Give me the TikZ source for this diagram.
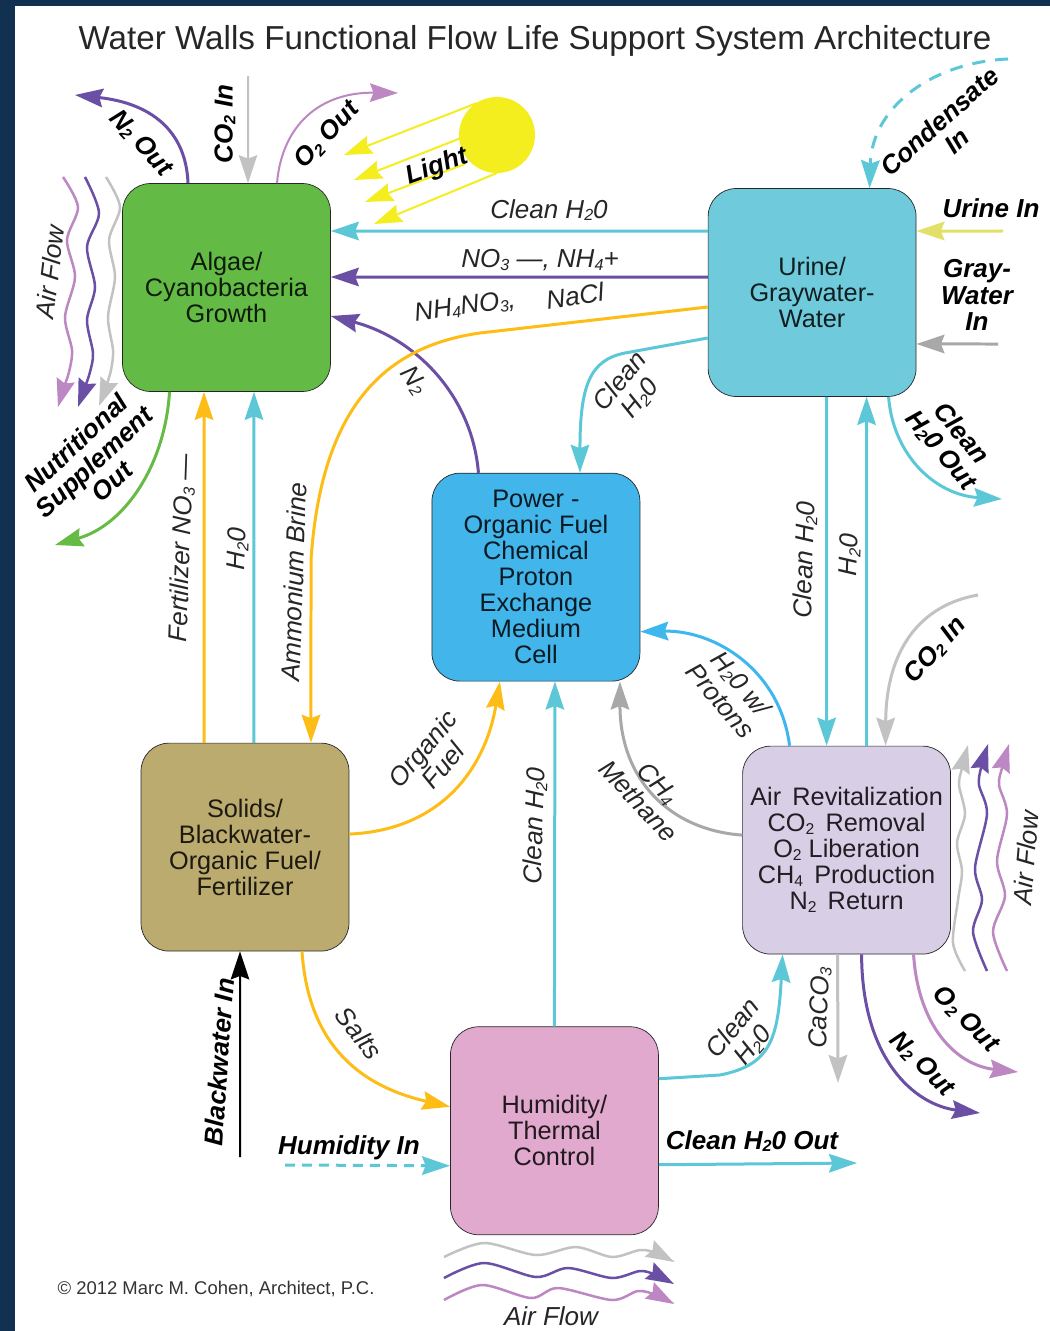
\documentclass[tikz,border=0pt]{standalone}
\usepackage{fontspec}
\setmainfont{Liberation Sans}
\usetikzlibrary{positioning,arrows.meta}
\usepackage{xcolor}

\definecolor{pagenavy}{HTML}{12304F}
\definecolor{algaegreen}{HTML}{63BB46}
\definecolor{urineteal}{HTML}{6FCBDB}
\definecolor{powerblue}{HTML}{42B5EA}
\definecolor{solidstan}{HTML}{BCAB6E}
\definecolor{airlilac}{HTML}{D8CFE6}
\definecolor{humidpink}{HTML}{E0A9CD}
\definecolor{flowcyan}{HTML}{5CC8D7}
\definecolor{flowpurple}{HTML}{6B4FA5}
\definecolor{flowmauve}{HTML}{BC87C2}
\definecolor{flowgrey}{HTML}{C2C2C2}
\definecolor{flowdark}{HTML}{A8A8A8}
\definecolor{floworange}{HTML}{FDBD16}
\definecolor{flowgreen}{HTML}{66BB44}
\definecolor{flowblue}{HTML}{3EB6EE}
\definecolor{sunyellow}{HTML}{F5EE1F}
\definecolor{urineyellow}{HTML}{E3E06A}

\newcommand{\lowdigit}[1]{\raisebox{-0.2ex}{\scalebox{0.62}{#1}}}

\begin{document}
\begin{tikzpicture}[x=0.02cm,y=-0.02cm]
    \tikzstyle{block} = [rectangle, draw=black!85, rounded corners=.56cm,
               minimum size=4.16cm, align=center, text opacity=.85,
               font=\fontsize{14.4}{14.8}\selectfont]
    \tikzstyle{flow} = [line width=.06cm, -{Stealth[length=.56cm,width=.37cm,inset=.07cm]}]
    \tikzstyle{thinflow} = [line width=.04cm, -{Stealth[length=.56cm,width=.37cm,inset=.07cm]}]
    \tikzstyle{airwave} = [line width=.05cm, -{Stealth[length=.56cm,width=.37cm,inset=.07cm]}]
    \tikzstyle{lbl} = [align=center, inner sep=0pt, text opacity=.85,
               font=\fontsize{14.8}{15}\selectfont\itshape]
    \tikzstyle{boldlbl} = [align=center, inner sep=0pt,
               font=\fontsize{14.8}{15}\selectfont\bfseries\itshape]

    % Page
    \fill[pagenavy] (0,0) rectangle (1050,1331);
    \fill[white] (15,6) rectangle (1050,1331);
    \node[inner sep=0pt, text opacity=.85, font=\fontsize{18.9}{20}\selectfont] (title) at (535,41)
      {Water Walls Functional Flow Life Support System Architecture};

    % Boxes
    \node[block, fill=algaegreen] (algae) at (226.5,287.5) {Algae/\\Cyanobacteria\\Growth};
    \node[block, fill=urineteal, right=7.54cm of algae, yshift=-.1cm] (urine) {Urine/\\Graywater-\\Water};
    \node[block, fill=powerblue, below=1.62cm of algae, xshift=6.19cm] (power)
      {Power -\\Organic Fuel\\Chemical\\Proton\\Exchange\\Medium\\Cell};
    \node[block, fill=solidstan, below=7.02cm of algae, xshift=.37cm] (solids)
      {Solids/\\Blackwater-\\Organic Fuel/\\Fertilizer};
    \node[block, fill=airlilac, below=6.98cm of urine, xshift=.69cm] (air)
      {Air\, Revitalization\\CO\lowdigit{2}\, Removal\\O\lowdigit{2} Liberation\\CH\lowdigit{4}\, Production\\N\lowdigit{2}\, Return};
    \node[block, fill=humidpink, below=1.5cm of solids, xshift=6.19cm] (humid)
      {Humidity/\\Thermal\\Control};

    % Free ends
    \coordinate (nout) at (75,95);
    \coordinate (coin) at (248,76);
    \coordinate (oout) at (398,93);
    \coordinate (rayA) at (344,155);
    \coordinate (rayB) at (354,180);
    \coordinate (rayC) at (365,202);
    \coordinate (rayD) at (374,224);
    \coordinate (nutri) at (55,545);
    \coordinate (condense) at (1008,59);
    \coordinate (urinein) at (1003,231);
    \coordinate (grayin) at (998,344);
    \coordinate (cleanout) at (1002,499);
    \coordinate (cotwoin) at (978,595);
    \coordinate (caco) at (838,1083);
    \coordinate (ntwoout) at (980,1113);
    \coordinate (otwoout) at (1018,1072);
    \coordinate (humidout) at (857,1163);
    \coordinate (blackin) at (240,1157);
    \coordinate (humidin) at (285,1165);

    % Sun
    \draw[thinflow, color=sunyellow] (477,103) -- (rayA);
    \draw[thinflow, color=sunyellow] (461,138) -- (rayB);
    \draw[thinflow, color=sunyellow] (465,164) -- (rayC);
    \draw[thinflow, color=sunyellow] (497,173) -- (rayD);
    \node[circle, fill=sunyellow, minimum size=1.52cm, inner sep=0pt] (sun) at (497,135) {};

    % Around the algae box
    \draw[flow, color=flowpurple] ([xshift=-.77cm]algae.north) .. controls (186,130) and (150,103) .. (nout);
    \draw[flow, color=flowgrey, line width=.04cm] (coin) -- ([xshift=.43cm]algae.north);
    \draw[thinflow, color=flowmauve] ([xshift=1.01cm]algae.north) .. controls (282,125) and (320,92) .. (oout);
    \draw[flow, color=flowgreen] ([xshift=-1.14cm]algae.south) .. controls (165,465) and (125,525) .. (nutri);
    \draw[flow, color=flowcyan] ([yshift=1.23cm]urine.west) -- ([yshift=1.13cm]algae.east);
    \draw[flow, color=flowpurple] ([yshift=.31cm]urine.west) -- ([yshift=.21cm]algae.east);
    \draw[flow, color=flowpurple] ([xshift=-1.15cm]power.north) .. controls (472,395) and (415,338) .. ([yshift=-.57cm]algae.east);
    \draw[flow, color=floworange] ([xshift=-.82cm]solids.north) -- ([xshift=-.45cm]algae.south);
    \draw[flow, color=flowcyan] ([xshift=.18cm]solids.north) -- ([xshift=.55cm]algae.south);
    \draw[flow, color=floworange] ([yshift=-.29cm]urine.west) -- (480,333)
      .. controls (395,345) and (322,395) .. (311,560) -- ([xshift=1.32cm]solids.north);

    % Around the urine box
    \draw[flow, color=flowcyan, dash pattern=on .26cm off .2cm] (condense) .. controls (935,62) and (872,105) .. ([xshift=1.15cm]urine.north);
    \draw[flow, color=urineyellow] (urinein) -- ([yshift=1.23cm]urine.east);
    \draw[flow, color=flowdark] (grayin) -- ([yshift=-1.03cm]urine.east);
    \draw[flow, color=flowcyan] ([yshift=-.91cm]urine.west) -- (625,353) .. controls (590,360) and (580,385) .. ([xshift=.88cm]power.north);
    \draw[flow, color=flowcyan] ([xshift=.29cm]urine.south) -- ([xshift=-.4cm]air.north);
    \draw[flow, color=flowcyan] ([xshift=.4cm]air.north) -- ([xshift=1.09cm]urine.south);
    \draw[flow, color=flowcyan] ([xshift=1.53cm]urine.south) .. controls (893,455) and (935,495) .. (cleanout);

    % Around the air box
    \draw[flow, color=flowgrey] (cotwoin) .. controls (920,605) and (886,650) .. ([xshift=.78cm]air.north);
    \draw[flow, color=flowblue] ([xshift=-1.14cm]air.north) .. controls (780,670) and (715,630) .. ([yshift=-1.09cm]power.east);
    \draw[flow, color=flowdark] ([yshift=.3cm]air.west) .. controls (670,830) and (620,780) .. ([xshift=1.68cm]power.south);
    \draw[flow, color=flowgrey] ([xshift=-.18cm]air.south) -- (caco);
    \draw[flow, color=flowpurple] ([xshift=.3cm]air.south) .. controls (862,1060) and (915,1105) .. (ntwoout);
    \draw[flow, color=flowmauve] ([xshift=1.34cm]air.south) .. controls (918,1025) and (955,1065) .. (otwoout);

    % Around the humidity box
    \draw[flow, color=flowcyan] (humid.north) -- ([xshift=.38cm]power.south);
    \draw[flow, color=flowcyan] ([yshift=1.04cm]humid.east) -- (720,1075) .. controls (770,1065) and (778,1040) .. ([xshift=-1.28cm]air.south);
    \draw[flow, color=flowcyan] ([yshift=-.68cm]humid.east) -- (humidout);
    \draw[flow, color=flowcyan, dash pattern=on .2cm off .14cm] (humidin) -- ([yshift=-.7cm]humid.west);
    \draw[flow, color=floworange] ([xshift=1.14cm]solids.south) .. controls (308,1040) and (355,1085) .. ([yshift=.48cm]humid.west);
    \draw[flow, color=floworange] ([yshift=.26cm]solids.east) .. controls (440,830) and (485,770) .. ([xshift=-.72cm]power.south);
    \draw[thinflow, color=black] (blackin) -- ([xshift=-.1cm]solids.south);

    % Air flow
    \draw[airwave, color=flowmauve] plot[smooth] coordinates {(63,177) (78,207) (67,240) (75,277) (65,317) (72,350) (69,372) (63,390) (58,407)};
    \draw[airwave, color=flowpurple] plot[smooth] coordinates {(85,177) (99,213) (87,247) (95,287) (87,320) (93,353) (90,372) (84,390) (78,407)};
    \draw[airwave, color=flowgrey] plot[smooth] coordinates {(106,177) (120,207) (109,240) (115,277) (108,317) (113,350) (111,370) (105,390) (99,406)};
    \draw[airwave, color=flowgrey] plot[smooth] coordinates {(965,971) (953,943) (958,900) (962,871) (957,843) (965,814) (959,785) (962,768) (968,745)};
    \draw[airwave, color=flowpurple] plot[smooth] coordinates {(987,971) (973,932) (982,900) (975,868) (987,814) (979,785) (981,768) (988,744)};
    \draw[airwave, color=flowmauve] plot[smooth] coordinates {(1007,971) (993,932) (1005,896) (997,861) (1007,814) (999,785) (1002,768) (1009,744)};
    \draw[airwave, color=flowgrey] plot[smooth] coordinates {(444,1257) (484,1243) (536,1255) (576,1247) (612,1257) (640,1250) (656,1253) (674,1262)};
    \draw[airwave, color=flowpurple] plot[smooth] coordinates {(444,1278) (484,1263) (536,1277) (568,1268) (612,1278) (640,1271) (656,1275) (674,1284)};
    \draw[airwave, color=flowmauve] plot[smooth] coordinates {(444,1300) (482,1285) (531,1298) (558,1288) (612,1300) (638,1291) (656,1295) (674,1304)};

    % Labels
    \node[boldlbl, rotate=-47] (lblNtop) at (141,143) {N\lowdigit{2} Out};
    \node[boldlbl, rotate=90] (lblCtop) at (225,124) {CO\lowdigit{2} In};
    \node[boldlbl, rotate=47] (lblOtop) at (327,135) {O\lowdigit{2} Out};
    \node[boldlbl, rotate=20] (lblLight) at (437,167) {Light};
    \node[lbl, rotate=83] (lblAirL) at (50,272) {Air Flow};
    \node[boldlbl, rotate=43] (lblNutri) at (94,462) {Nutritional\\Supplement\\Out};
    \node[lbl] (lblCleanTop) at (549,210) {Clean H\lowdigit{2}0};
    \node[lbl] (lblNitrate) at (540,260) {NO\lowdigit{3} —, NH\lowdigit{4}+};
    \node[lbl, rotate=8] (lblAmmonium) at (465,307) {NH\lowdigit{4}NO\lowdigit{3},};
    \node[lbl, rotate=8] (lblSalt) at (575,296) {NaCl};
    \node[lbl, rotate=-55] (lblNtwo) at (414,381) {N\lowdigit{2}};
    \node[lbl, rotate=88] (lblBrine) at (294,582) {Ammonium Brine};
    \node[lbl, rotate=88] (lblFert) at (182,548) {Fertilizer NO\lowdigit{3} —};
    \node[lbl, rotate=88] (lblWaterL) at (238,549) {H\lowdigit{2}0};
    \node[lbl, rotate=50] (lblCleanPow) at (630,390) {Clean\\H\lowdigit{2}0};
    \node[boldlbl, rotate=42] (lblCond) at (948,131) {Condensate\\In};
    \node[boldlbl] (lblUrine) at (991,208) {Urine In};
    \node[boldlbl] (lblGray) at (977,295) {Gray-\\Water\\In};
    \node[boldlbl, rotate=-50] (lblCleanOut) at (951,442) {Clean\\H\lowdigit{2}0 Out};
    \node[lbl, rotate=88] (lblCleanR) at (805,560) {Clean H\lowdigit{2}0};
    \node[lbl, rotate=88] (lblWaterR) at (850,555) {H\lowdigit{2}0};
    \node[boldlbl, rotate=48] (lblCotwo) at (935,650) {CO\lowdigit{2} In};
    \node[lbl, rotate=-50] (lblProtons) at (731,692) {H\lowdigit{2}0 w/\\Protons};
    \node[lbl, rotate=-47] (lblMethane) at (648,792) {CH\lowdigit{4}\\Methane};
    \node[lbl, rotate=50] (lblOrganic) at (433,757) {Organic\\Fuel};
    \node[lbl, rotate=88] (lblCleanMid) at (535,826) {Clean H\lowdigit{2}0};
    \node[lbl, rotate=85] (lblAirR) at (1026,858) {Air Flow};
    \node[lbl, rotate=88] (lblCaco) at (820,1008) {CaCO\lowdigit{3}};
    \node[boldlbl, rotate=-45] (lblNlow) at (922,1064) {N\lowdigit{2} Out};
    \node[boldlbl, rotate=-45] (lblOlow) at (966,1019) {O\lowdigit{2} Out};
    \node[lbl, rotate=50] (lblCleanHum) at (743,1037) {Clean\\H\lowdigit{2}0};
    \node[boldlbl] (lblCleanHumOut) at (752,1141) {Clean H\lowdigit{2}0 Out};
    \node[lbl, rotate=-52] (lblSalts) at (359,1033) {Salts};
    \node[boldlbl, rotate=86] (lblBlack) at (219,1062) {Blackwater In};
    \node[boldlbl] (lblHumid) at (349,1148) {Humidity In};
    \node[lbl] (lblAirB) at (551,1316) {Air Flow};
    \node[inner sep=0pt, text opacity=.8, font=\fontsize{10.5}{12}\selectfont] (copyright) at (216,1289)
      {© 2012 Marc M. Cohen, Architect, P.C.};
\end{tikzpicture}
\end{document}
